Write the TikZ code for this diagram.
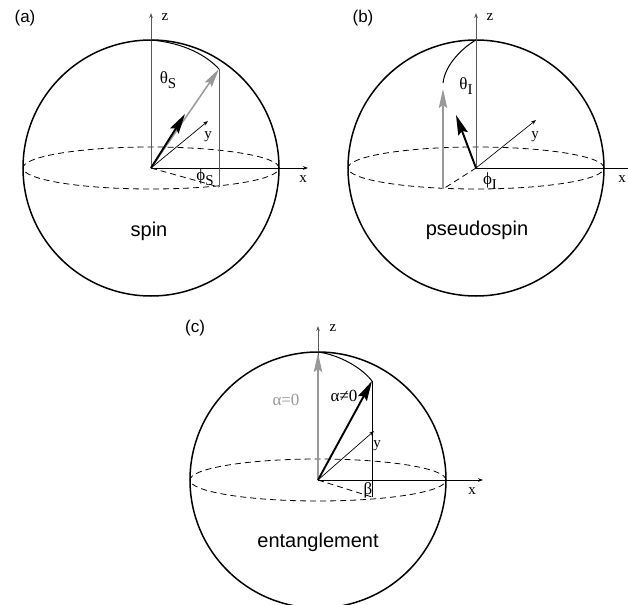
\documentclass[tikz,border=0pt]{standalone}
\usepackage{fontspec}
\setmainfont{Liberation Serif}
\newfontfamily\helv{Liberation Sans}
\usetikzlibrary{arrows.meta}
\newcommand{\lowsub}[1]{\raisebox{-0.65ex}{\fontsize{7.5}{8}\selectfont #1}}

\begin{document}
\begin{tikzpicture}[x=0.5pt, y=0.5pt,
  sphere/.style={line width=0.75pt},
  equator/.style={dash pattern=on 3pt off 2pt, line width=0.4pt},
  axisline/.style={line width=0.45pt, -{Stealth[length=2.5pt,width=1.8pt]}},
  zaxis/.style={axisline, draw=black!65},
  blackspin/.style={line width=0.95pt, -{Stealth[length=10pt,width=5pt,inset=1.5pt]}},
  grayspin/.style={line width=0.75pt, draw=black!40, -{Stealth[length=9.5pt,width=4.2pt,inset=1.5pt]}},
  projline/.style={line width=0.5pt},
  axislab/.style={font=\fontsize{7.5}{9}\selectfont, inner sep=0pt},
  anglab/.style={font=\fontsize{8.5}{10}\selectfont, inner sep=0pt},
  panellab/.style={font=\helv\fontsize{8.5}{10}\selectfont, inner sep=0pt},
  namelab/.style={font=\helv\fontsize{10}{12}\selectfont, inner sep=0pt}]
  \useasboundingbox (0,0) rectangle (628,-605);
  \clip (0,0) rectangle (628,-605);

  % (a) spin
  \coordinate (Oa) at (151,-168);
  \coordinate (Pa) at (219,-69);
  \coordinate (Qa) at (219,-187);
  \draw[sphere] (Oa) circle (128);
  \draw[equator] (Oa) ellipse (128 and 21);
  \draw[zaxis] (Oa) -- (151,-13);
  \draw[axisline] (Oa) -- (308,-168);
  \draw[axisline, line width=0.35pt] (Oa) -- (208,-121);
  \draw[projline, draw=black!65] (Pa) -- (Qa);
  \draw[equator] (Oa) -- (Qa);
  \draw[line width=0.5pt] (151,-40) .. controls (185,-43) and (207,-56) .. (Pa);
  \draw[grayspin] (Oa) -- (Pa);
  \draw[blackspin] (Oa) -- (185,-114);
  \node[panellab] (laba) at (25,-18) {(a)};
  \node[axislab] (za) at (165,-17) {z};
  \node[axislab] (xa) at (303,-179) {x};
  \node[axislab] (ya) at (208,-137) {y};
  \node[anglab] (tha) at (168,-80) {θ\lowsub{S}};
  \node[anglab] (pha) at (205,-177) {ϕ\lowsub{S}};
  \node[namelab] (spin) at (149,-231) {spin};

  % (b) pseudospin
  \coordinate (Ob) at (476,-168);
  \coordinate (Pb) at (443,-89);
  \coordinate (Qb) at (443,-189);
  \draw[sphere] (Ob) circle (128);
  \draw[equator] (Ob) ellipse (128 and 21);
  \draw[zaxis] (Ob) -- (476,-13);
  \draw[axisline] (Ob) -- (640,-168);
  \draw[axisline, line width=0.35pt] (Ob) -- (536,-120);
  \draw[equator] (Ob) -- (Qb);
  \draw[line width=0.5pt] (476,-40) .. controls (462,-48) and (445,-65) .. (443,-83);
  \draw[grayspin] (Qb) -- (Pb);
  \draw[blackspin] (Ob) -- (456,-115);
  \node[panellab] (labb) at (363,-18) {(b)};
  \node[axislab] (zb) at (490,-17) {z};
  \node[axislab] (xb) at (622,-179) {x};
  \node[axislab] (yb) at (535,-137) {y};
  \node[anglab] (thb) at (466,-86) {θ\lowsub{I}};
  \node[anglab] (phb) at (490,-181) {ϕ\lowsub{I}};
  \node[namelab] (pseudo) at (477,-230) {pseudospin};

  % (c) entanglement
  \coordinate (Oc) at (318,-480);
  \coordinate (Pc) at (372,-381);
  \coordinate (Qc) at (372,-497);
  \draw[sphere] (Oc) circle (128);
  \draw[equator] (Oc) ellipse (128 and 21);
  \draw[zaxis] (Oc) -- (318,-326);
  \draw[axisline] (Oc) -- (483,-480);
  \draw[axisline, line width=0.35pt] (Oc) -- (374,-431);
  \draw[projline] (Pc) -- (Qc);
  \draw[equator] (Oc) -- (Qc);
  \draw[line width=0.5pt] (318,-352) .. controls (340,-355) and (362,-368) .. (Pc);
  \draw[grayspin] (Oc) -- (318,-353);
  \draw[blackspin] (Oc) -- (Pc);
  \node[panellab] (labc) at (195,-328) {(c)};
  \node[axislab] (zc) at (333,-328) {z};
  \node[axislab] (xc) at (472,-491) {x};
  \node[axislab] (yc) at (377,-446) {y};
  \node[anglab, text=black!40] (alz) at (286,-400) {α=0};
  \node[anglab] (alnz) at (344,-396) {α≠0};
  \node[anglab] (bet) at (368,-490) {β};
  \node[namelab] (ent) at (318,-542) {entanglement};
\end{tikzpicture}
\end{document}
